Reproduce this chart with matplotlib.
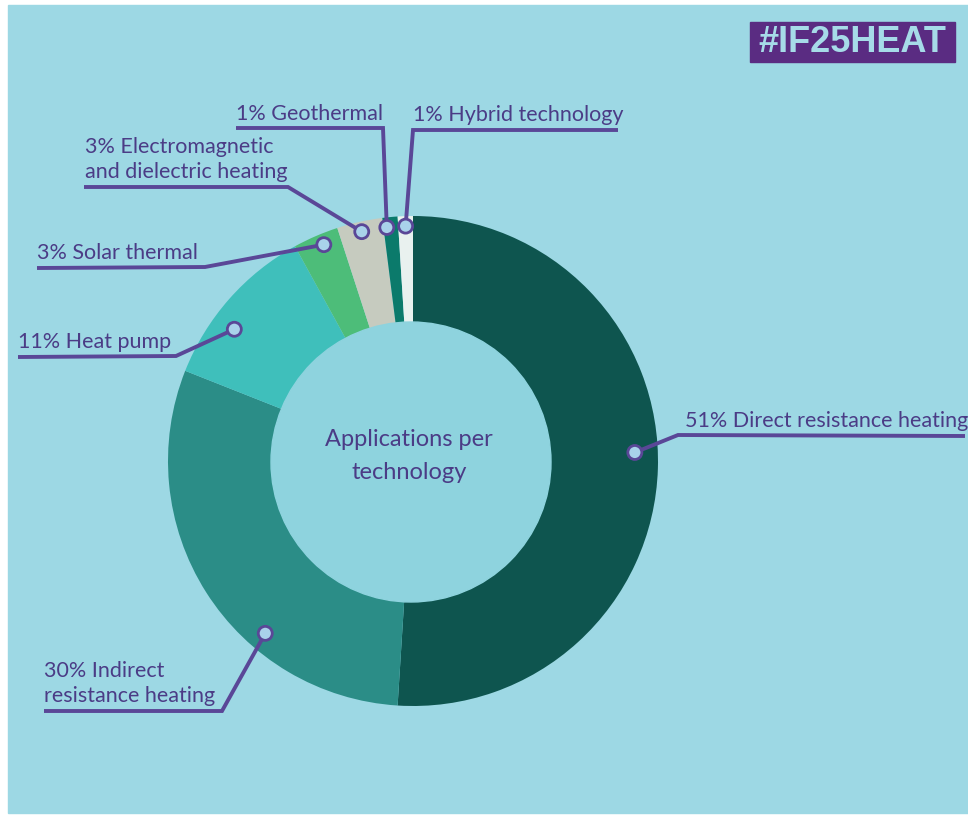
import numpy as np
import matplotlib.pyplot as plt
from matplotlib.patches import Rectangle, Circle

# datos del grafico
tecnologias = ['Direct resistance heating', 'Indirect\nresistance heating', 'Heat pump',
               'Solar thermal', 'Electromagnetic\nand dielectric heating', 'Geothermal',
               'Hybrid technology']
porcentajes = [51, 30, 11, 3, 3, 1, 1]
colores = ['#0e554f', '#2b8d87', '#3fbfbb', '#4dbd79', '#c6cbbf', '#0b7a6b', '#e9f1ef']

FONDO = '#9dd8e4'
MORADO = '#4b3c86'
LINEA = '#5a4797'
fuente = ['Lato', 'DejaVu Sans']

W, H = 968, 818
fig = plt.figure(figsize=(W / 100, H / 100), dpi=100, facecolor='white')
ax = fig.add_axes([0, 0, 1, 1])

def yy(y):
    # pasar de coordenadas de imagen (y hacia abajo) a las del eje
    return H - y

ax.add_patch(Rectangle((8, yy(813)), W - 8, 808, color=FONDO, zorder=0))

cx, cy = 413, yy(461)
r_ext, r_int = 245, 140
wedges, _ = ax.pie(porcentajes, colors=colores, startangle=90, counterclock=False,
                   center=(cx, cy), radius=r_ext, frame=True,
                   wedgeprops=dict(width=r_ext - r_int + 4, linewidth=0))
ax.set_xlim(0, W)
ax.set_ylim(0, H)
ax.axis('off')
ax.add_patch(Circle((cx - 2, cy - 1), r_int, color='#8ed3de', zorder=3))

ax.text(cx - 4, yy(456), 'Applications per\ntechnology', ha='center', va='center',
        fontsize=17, color=MORADO, family=fuente, linespacing=1.7, zorder=4)

# posicion de cada etiqueta: (desfase del angulo, radio, codo, fin de la linea, texto x, texto y)
guias = [
    (4, 222, (678, 435), (965, 436), 685, 431),
    (17, 227, (222, 711), (44, 711), 44, 706),
    (5, 222, (176, 356), (18, 357), 18, 352),
    (-1, 234, (205, 267), (37, 268), 37, 263),
    (0, 235, (288, 187), (84, 187), 85, 182),
    (1, 235, (383, 128), (236, 128), 236, 124),
    (0, 235, (413, 130), (618, 130), 413, 125),
]

for w, pct, nombre, g in zip(wedges, porcentajes, tecnologias, guias):
    da, rr, codo, fin, tx, ty = g
    ang = np.deg2rad((w.theta1 + w.theta2) / 2 + da)
    mx, my = cx + rr * np.cos(ang), cy + rr * np.sin(ang)
    ax.plot([mx, codo[0], fin[0]], [my, yy(codo[1]), yy(fin[1])], color=LINEA,
            lw=2.8, solid_capstyle='butt', solid_joinstyle='miter', zorder=5)
    ax.add_patch(Circle((mx, my), 7, facecolor='#a9d2ea', edgecolor=LINEA, lw=2, zorder=6))
    ax.text(tx, yy(ty), f'{pct}% {nombre}', ha='left', va='bottom', fontsize=15.5,
            color=MORADO, family=fuente, linespacing=1.3, zorder=6)

# etiqueta de la esquina
ax.add_patch(Rectangle((750, yy(62)), 205, 40, color='#5a2c82', zorder=4))
ax.text(852, yy(42), '#IF25HEAT', ha='center', va='center', fontsize=26,
        fontweight='bold', color='#a6dbe8', family=['Liberation Sans', 'DejaVu Sans'], zorder=5)

plt.savefig('out.png', dpi=100, facecolor='white')
